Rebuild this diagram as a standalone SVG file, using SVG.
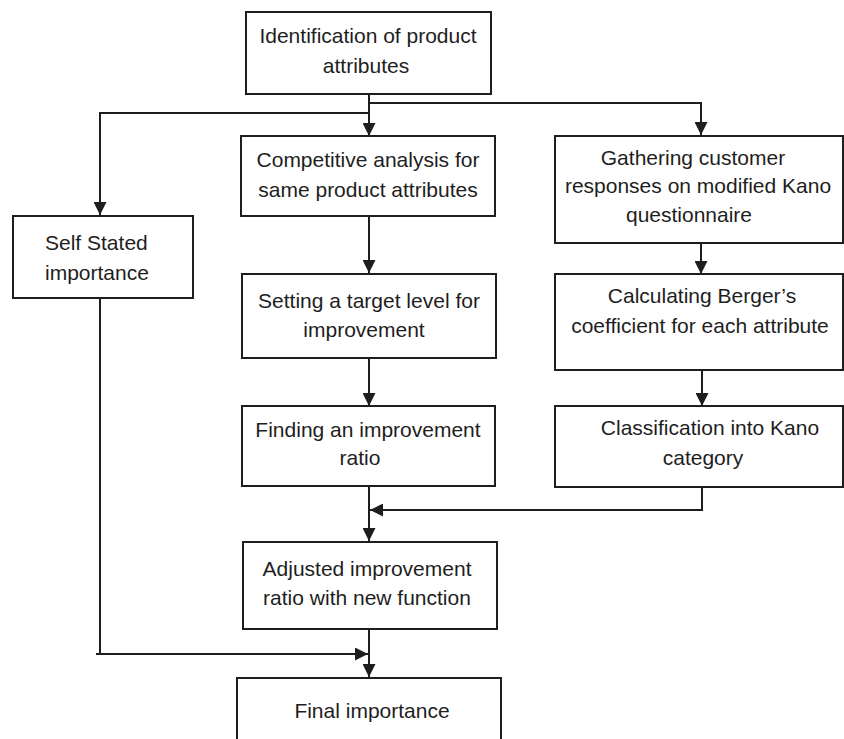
<svg xmlns="http://www.w3.org/2000/svg" width="844" height="739" viewBox="0 0 844 739">
<defs>
<style>
.box{fill:#fff;stroke:#1e1e1e;stroke-width:2}
.t{font-family:"Liberation Sans",Arial,Helvetica,sans-serif;font-size:21px;fill:#1e1e1e;text-anchor:middle}
.c{fill:none;stroke:#1e1e1e;stroke-width:2}
</style>
<marker id="ah" markerUnits="userSpaceOnUse" markerWidth="13" markerHeight="13" refX="13" refY="6.5" orient="auto" viewBox="0 0 13 13">
<path d="M0,0 L13,6.5 L0,13 Z" fill="#1e1e1e"/>
</marker>
</defs>
<rect width="844" height="739" fill="#fff"/>
<g id="connectors">
<line class="c" x1="369" y1="94" x2="369" y2="136" marker-end="url(#ah)"/>
<polyline class="c" points="369,103 701,103 701,135" marker-end="url(#ah)"/>
<polyline class="c" points="369,113 100,113 100,215" marker-end="url(#ah)"/>
<line class="c" x1="369" y1="216" x2="369" y2="273" marker-end="url(#ah)"/>
<line class="c" x1="701" y1="243" x2="701" y2="274" marker-end="url(#ah)"/>
<line class="c" x1="369" y1="358" x2="369" y2="406" marker-end="url(#ah)"/>
<line class="c" x1="702" y1="370" x2="702" y2="406" marker-end="url(#ah)"/>
<line class="c" x1="369" y1="486" x2="369" y2="541" marker-end="url(#ah)"/>
<polyline class="c" points="702,487 702,510 370,510" marker-end="url(#ah)"/>
<line class="c" x1="369" y1="629" x2="369" y2="677" marker-end="url(#ah)"/>
<polyline class="c" points="100,298 100,654"/>
<line class="c" x1="96" y1="654" x2="368" y2="654" marker-end="url(#ah)"/>
</g>
<g id="n-identification">
<rect class="box" x="246" y="12" width="245" height="82"/>
<text class="t" x="368" y="43">Identification of product</text>
<text class="t" x="366" y="73">attributes</text>
</g>
<g id="n-competitive">
<rect class="box" x="241" y="136" width="254" height="80"/>
<text class="t" x="368" y="167">Competitive analysis for</text>
<text class="t" x="368" y="197">same product attributes</text>
</g>
<g id="n-gathering">
<rect class="box" x="555" y="136" width="288" height="107"/>
<text class="t" x="693" y="165">Gathering customer</text>
<text class="t" x="698" y="193">responses on modified Kano</text>
<text class="t" x="689" y="222">questionnaire</text>
</g>
<g id="n-self">
<rect class="box" x="13" y="216" width="180" height="82"/>
<text class="t" x="45" y="250" style="text-anchor:start">Self Stated</text>
<text class="t" x="45" y="280" style="text-anchor:start">importance</text>
</g>
<g id="n-setting">
<rect class="box" x="242" y="274" width="254" height="84"/>
<text class="t" x="369" y="308">Setting a target level for</text>
<text class="t" x="364" y="337">improvement</text>
</g>
<g id="n-calculating">
<rect class="box" x="555" y="274" width="288" height="96"/>
<text class="t" x="702" y="303">Calculating Berger’s</text>
<text class="t" x="700" y="333">coefficient for each attribute</text>
</g>
<g id="n-finding">
<rect class="box" x="242" y="406" width="253" height="80"/>
<text class="t" x="368" y="437">Finding an improvement</text>
<text class="t" x="360" y="465">ratio</text>
</g>
<g id="n-classification">
<rect class="box" x="555" y="406" width="288" height="81"/>
<text class="t" x="710" y="435">Classification into Kano</text>
<text class="t" x="703" y="465">category</text>
</g>
<g id="n-adjusted">
<rect class="box" x="243" y="542" width="254" height="87"/>
<text class="t" x="367" y="576">Adjusted improvement</text>
<text class="t" x="367" y="605">ratio with new function</text>
</g>
<g id="n-final">
<rect class="box" x="237" y="678" width="264" height="80"/>
<text class="t" x="372" y="718">Final importance</text>
</g>
</svg>
